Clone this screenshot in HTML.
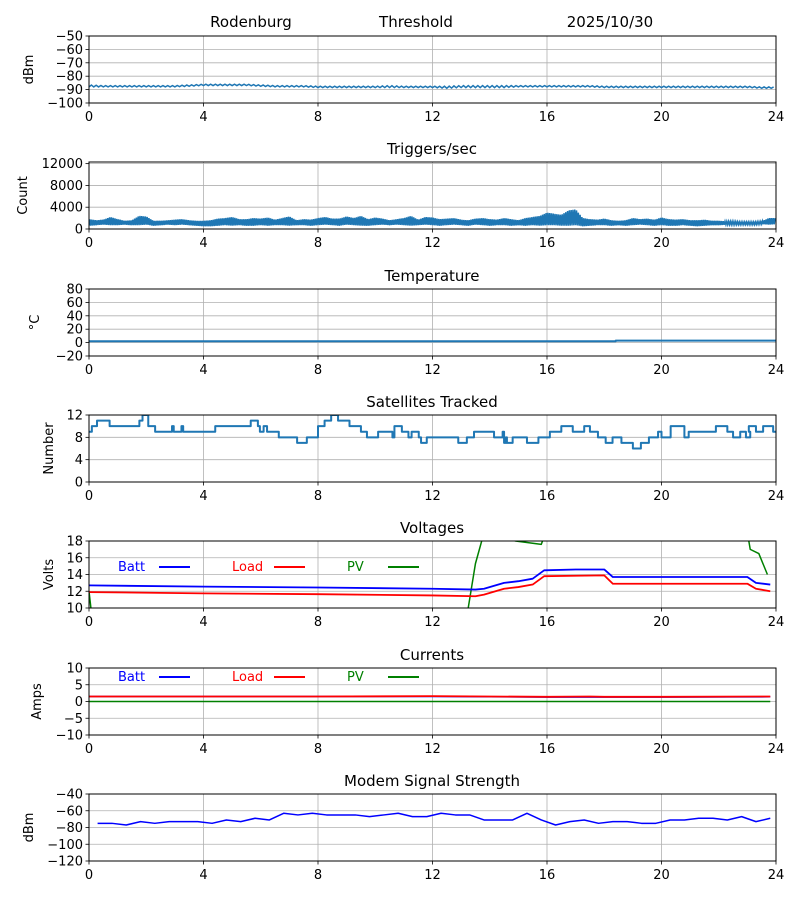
<!DOCTYPE html>
<html><head><meta charset="utf-8">
<style>
html,body{margin:0;padding:0;background:#fff;}
svg{display:block;font-family:"DejaVu Sans","Liberation Sans",sans-serif;}
</style></head>
<body>
<svg id="chart" width="800" height="900" viewBox="0 0 800 900" xmlns="http://www.w3.org/2000/svg"></svg>
<script>
// ---- data ----
const xTicks = [0,4,8,12,16,20,24];
// RSSI (dBm) per half hour
const rssiHours = [0,0.5,1,1.5,2,2.5,3,3.5,4,4.5,5,5.5,6,6.5,7,7.5,8,8.5,9,9.5,10,10.5,11,11.5,12,12.5,13,13.5,14,14.5,15,15.5,16,16.5,17,17.5,18,18.5,19,19.5,20,20.5,21,21.5,22,22.5,23,23.5,24];
const rssiLo = [-88,-88,-88,-88,-88,-88,-88,-87.5,-87,-87,-87,-87,-87.5,-88,-88,-88,-88.5,-88.5,-88.5,-88.5,-88.5,-88.5,-88.5,-88.5,-88.5,-89,-88.5,-88.5,-88.5,-88.5,-88,-88,-88,-88,-88,-88,-88.5,-88.5,-88.5,-88.5,-88.5,-88.5,-88.5,-88.5,-88.5,-88.5,-88.5,-89,-89];
const rssiHi = [-86.5,-87,-87,-87,-87,-87,-87,-86.5,-86,-86,-86,-86,-86.5,-87,-87,-87,-87.5,-87.5,-87.5,-87.5,-87.5,-87,-87.5,-87.5,-87.5,-87.5,-87,-87,-87,-87,-87,-87,-87,-87,-87,-87,-87.5,-87.5,-87.5,-87.5,-87.5,-87.5,-87.5,-87.5,-87.5,-87.5,-87.5,-88,-88];
// Triggers/sec per quarter hour (low/high envelope)
const trigLo = [600,700,800,700,700,800,700,700,800,600,700,800,700,800,700,600,500,500,600,700,600,700,600,600,700,600,700,700,600,700,700,600,700,800,700,600,800,700,600,600,700,800,700,800,700,600,700,800,700,600,700,800,700,600,800,700,600,700,700,600,700,600,700,600,700,700,600,600,700,500,600,700,700,600,700,600,700,800,700,600,700,600,600,700,600,500,600,700,700,800,800,800,800,800,900,800,900];
const trigHi = [1800,1600,1700,2200,1800,1500,1600,2400,2300,1500,1500,1600,1700,1800,1600,1500,1500,1600,1900,2000,2200,1800,1800,2000,1900,2100,1700,2000,2300,1600,1800,1700,2000,2200,1900,1900,2300,2000,2400,1800,2100,1900,1600,1800,2000,2400,1700,2200,2100,1800,1900,2000,1700,1600,1900,2000,1800,1700,2000,1800,1600,2000,2200,2400,3000,2800,2600,3400,3600,2000,1800,1700,1900,1600,1500,1600,2000,1800,1900,1700,2100,1800,1700,1800,1600,1600,1700,1500,1500,1400,1400,1300,1300,1300,1400,2000,2000];
// Temperature
const tempHours = [0,18.4,18.4,24];
const tempVals = [2,2,3,3];
// Satellites (step changes)
const satHours = [0,0.1,0.28,0.72,1.76,1.87,2.07,2.31,2.9,2.96,3.23,3.29,4.41,4.65,4.65,4.65,5.65,5.9,5.97,6.1,6.22,6.63,7.27,7.61,8.0,8.23,8.46,8.7,9.1,9.5,9.71,10.1,10.6,10.67,10.93,11.16,11.27,11.52,11.6,11.8,11.9,12.9,13.2,13.45,14.15,14.45,14.5,14.56,14.6,14.8,15.3,15.7,16.1,16.5,16.9,17.3,17.5,17.78,18.05,18.29,18.6,19.0,19.28,19.56,19.88,20.0,20.32,20.8,20.88,20.95,21.1,21.9,22.3,22.5,22.5,22.75,22.95,23.1,23.05,23.3,23.55,23.9];
const satVals = [9,10,11,10,11,12,10,9,10,9,10,9,10,10,10,10,11,10,9,10,9,8,7,8,10,11,12,11,10,9,8,9,8,10,9,8,9,8,7,8,8,7,8,9,8,9,7,8,7,8,7,8,9,10,9,10,9,8,7,8,7,6,7,8,9,8,10,8,8,9,9,10,9,8,8,9,8,9,10,9,10,9];
// Voltages
const voltHours = [0,4,8,12,13.5,13.8,14.2,14.5,15,15.5,15.9,17,18,18.3,20,23,23.3,23.8];
const battV = [12.7,12.55,12.45,12.3,12.2,12.3,12.7,13.0,13.2,13.5,14.5,14.6,14.6,13.7,13.7,13.7,13.0,12.8];
const loadV = [11.9,11.75,11.65,11.5,11.4,11.6,12.0,12.3,12.5,12.8,13.8,13.85,13.9,12.9,12.9,12.9,12.3,12.0];
const pvHours = [0,0.1,13.2,13.5,13.8,14.9,15.8,15.95,23.0,23.1,23.4,23.7];
const pvV = [12,9,9,15.3,19,18,17.6,19,19,17.0,16.5,14.0];
// Currents
const curHours = [0,4,8,12,14,16,17.5,18,20,23.8];
const battA = [1.5,1.5,1.5,1.5,1.4,1.3,1.3,1.3,1.3,1.4];
const loadA = [1.5,1.5,1.5,1.6,1.5,1.4,1.5,1.4,1.4,1.5];
const pvA = [0,0,0,0,0,0,0,0,0,0];
// Modem signal
const modemHours = [0.3,0.8,1.3,1.8,2.3,2.8,3.3,3.8,4.3,4.8,5.3,5.8,6.3,6.8,7.3,7.8,8.3,8.8,9.3,9.8,10.3,10.8,11.3,11.8,12.3,12.8,13.3,13.8,14.3,14.8,15.3,15.8,16.3,16.8,17.3,17.8,18.3,18.8,19.3,19.8,20.3,20.8,21.3,21.8,22.3,22.8,23.3,23.8];
const modemVals = [-75,-75,-77,-73,-75,-73,-73,-73,-75,-71,-73,-69,-71,-63,-65,-63,-65,-65,-65,-67,-65,-63,-67,-67,-63,-65,-65,-71,-71,-71,-63,-71,-77,-73,-71,-75,-73,-73,-75,-75,-71,-71,-69,-69,-71,-67,-73,-69];

// ---- drawing ----
const NS='http://www.w3.org/2000/svg';
const svg=document.getElementById('chart');
const X0=89,X1=776;
function sx(h){return X0+(h/24)*(X1-X0);}
function mk(tag,attrs,parent){const e=document.createElementNS(NS,tag);for(const k in attrs)e.setAttribute(k,attrs[k]);(parent||svg).appendChild(e);return e;}
function txt(s,x,y,attrs,parent){const e=mk('text',Object.assign({x:x,y:y,'font-size':13,fill:'#000'},attrs||{}),parent);e.textContent=s;return e;}

function panel(name,top,ymin,ymax,yticks,ylabel,title,ylx){
  const bot=top+67;
  const g=mk('g',{});
  
  
  const sy=v=>bot-(v-ymin)/(ymax-ymin)*(bot-top);
  xTicks.forEach(t=>{
    const l=mk('line',{x1:sx(t),x2:sx(t),y1:top,y2:bot,stroke:'#b0b0b0','stroke-width':0.8},g);
    
    mk('line',{x1:sx(t),x2:sx(t),y1:bot,y2:bot+3.5,stroke:'#000','stroke-width':0.8},g);
    const tl=txt(String(t),sx(t),bot+18,{'text-anchor':'middle'},g);
    
  });
  yticks.forEach(t=>{
    const l=mk('line',{x1:X0,x2:X1,y1:sy(t),y2:sy(t),stroke:'#b0b0b0','stroke-width':0.8},g);
    
    mk('line',{x1:X0-3.5,x2:X0,y1:sy(t),y2:sy(t),stroke:'#000','stroke-width':0.8},g);
    const tl=txt(String(t).replace('-','\u2212'),X0-6,sy(t)+4.5,{'text-anchor':'end'},g);
    
  });
  const yl=txt(ylabel,0,0,{'text-anchor':'middle',transform:`translate(${ylx+5},${(top+bot)/2}) rotate(-90)`},g);
  
  if(title){const tt=txt(title,432,top-8,{'text-anchor':'middle','font-size':15},g);
    }
  const cid='clip'+name;
  const cp=mk('clipPath',{id:cid},g);mk('rect',{x:X0,y:top,width:X1-X0,height:bot-top},cp);
  const plot=mk('g',{'clip-path':`url(#${cid})`},g);
  
  const frame=mk('rect',{x:X0,y:top,width:X1-X0,height:bot-top,fill:'none',stroke:'#000','stroke-width':1},g);
  
  return {sy,plot,top,bot};
}
function line(p,hs,vs,color,w,name,step){
  let pts=[];
  for(let i=0;i<hs.length;i++){
    if(step&&i>0)pts.push(sx(hs[i])+','+p.sy(vs[i-1]));
    pts.push(sx(hs[i])+','+p.sy(vs[i]));
  }
  if(step)pts.push(sx(24)+','+p.sy(vs[vs.length-1]));
  const pl=mk('polyline',{points:pts.join(' '),fill:'none',stroke:color,'stroke-width':w,'stroke-linejoin':'round'},p.plot);
  
  
  return pl;
}
function band(p,hs,lo,hi,color,name,sub){
  let pts=[];
  for(let i=0;i<hs.length-1;i++){
    const a=hs[i],b=hs[i+1];
    for(let k=0;k<sub;k++){
      const h=a+(b-a)*k/sub;
      const lv=lo[i]+(lo[i+1]-lo[i])*k/sub, hv=hi[i]+(hi[i+1]-hi[i])*k/sub;
      pts.push(sx(h)+','+p.sy(k%2?hv:lv));
    }
  }
  const pl=mk('polyline',{points:pts.join(' '),fill:'none',stroke:color,'stroke-width':1.5},p.plot);
  
  
}
function legend(y){
  const items=[['Batt','#0000ff',118,159],['Load','#ff0000',232,274],['PV','#008000',347,388]];
  items.forEach(it=>{
    const t=txt(it[0],it[2],y+4,{fill:it[1]});
    
    const l=mk('line',{x1:it[3],x2:it[3]+31,y1:y,y2:y,stroke:it[1],'stroke-width':2});
    
  });
}
const BL='#1f77b4';
// header
[['Rodenburg',251],['Threshold',416],['2025/10/30',610]].forEach(a=>{
  const t=txt(a[0],a[1],27,{'text-anchor':'middle','font-size':15});
  
});
const p1=panel('rssi',36,-100,-50,[-100,-90,-80,-70,-60,-50],'dBm',null,28);
band(p1,rssiHours,rssiLo,rssiHi,BL,'rssi-series',6);
const p2=panel('triggers',162,0,12300,[0,4000,8000,12000],'Count','Triggers/sec',22);
band(p2,Array.from({length:trigLo.length},(_,i)=>i*24/(trigLo.length-1)),trigLo,trigHi,BL,'triggers-series',8);
const p3=panel('temperature',289,-20,80,[-20,0,20,40,60,80],'\u00B0C','Temperature',34);
line(p3,tempHours,tempVals,BL,2,'temperature-series');
const p4=panel('satellites',415,0,12,[0,4,8,12],'Number','Satellites Tracked',48);
line(p4,satHours,satVals,BL,2,'satellites-series',true);
const p5=panel('voltages',541,10,18,[10,12,14,16,18],'Volts','Voltages',48);
line(p5,pvHours,pvV,'#008000',1.5,'pv-voltage-series');
line(p5,voltHours,battV,'#0000ff',1.8,'batt-voltage-series');
line(p5,voltHours,loadV,'#ff0000',1.8,'load-voltage-series');
legend(567);
const p6=panel('currents',668,-10,10,[-10,-5,0,5,10],'Amps','Currents',36);
line(p6,curHours,pvA,'#008000',1.5,'pv-current-series');
line(p6,curHours,battA,'#0000ff',1.5,'batt-current-series');
line(p6,curHours,loadA,'#ff0000',1.8,'load-current-series');
legend(677);
const p7=panel('modem',794,-120,-40,[-120,-100,-80,-60,-40],'dBm','Modem Signal Strength',28);
line(p7,modemHours,modemVals,'#0000ff',1.5,'modem-signal-series');
</script>
</body></html>
